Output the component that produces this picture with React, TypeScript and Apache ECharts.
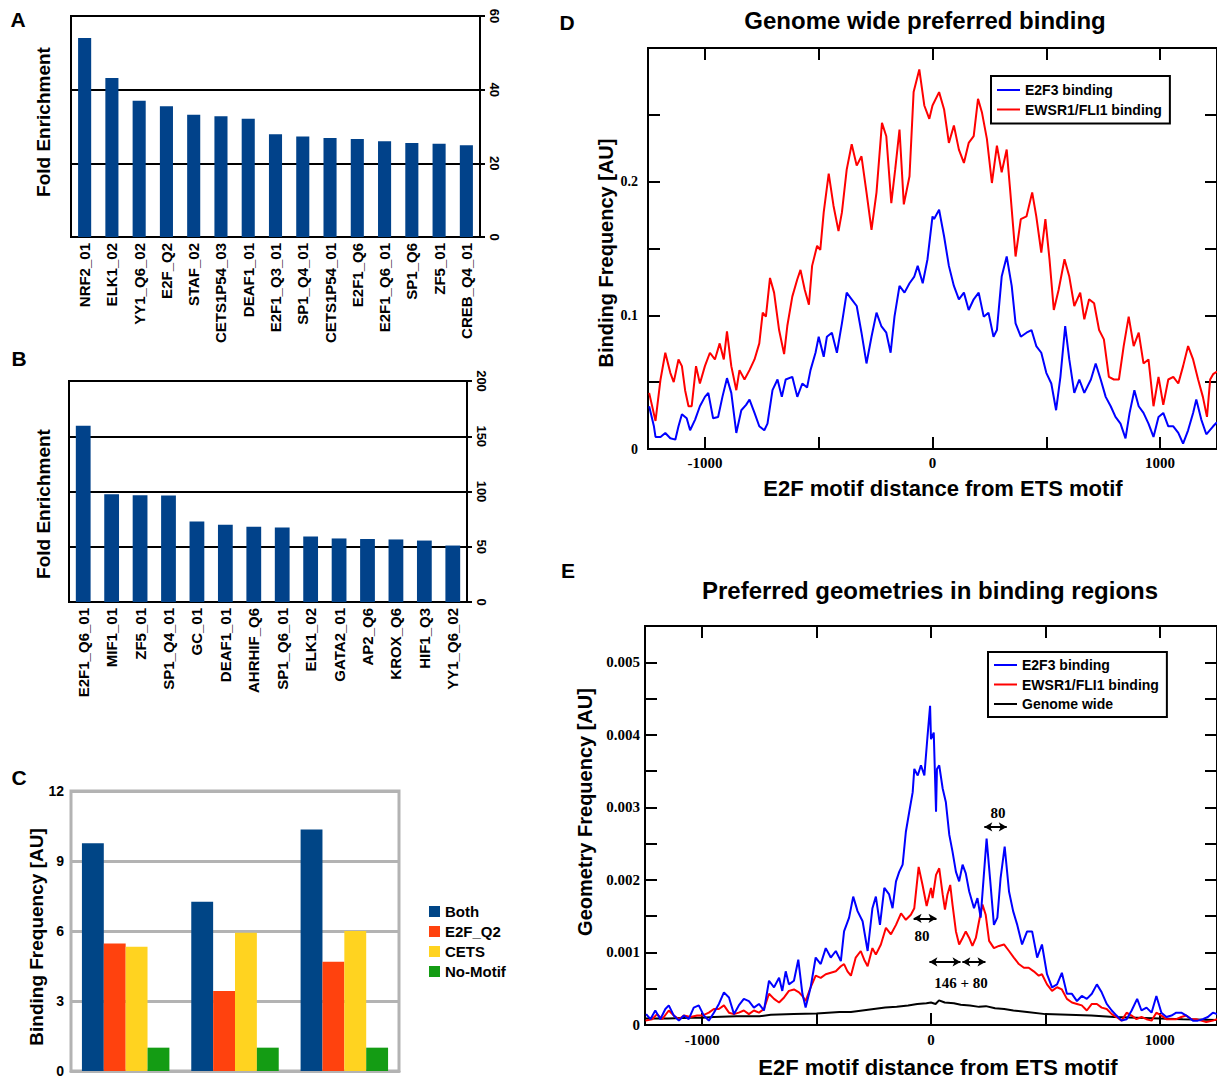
import React, { useEffect, useRef } from 'react';
import * as echarts from 'echarts';

const SANS = "'Liberation Sans', Arial, Helvetica, sans-serif";
const SERIF = "'Liberation Serif', 'Times New Roman', serif";

// Panel A
const A_CATEGORIES = ['NRF2_01', 'ELK1_02', 'YY1_Q6_02', 'E2F_Q2', 'STAF_02', 'CETS1P54_03', 'DEAF1_01', 'E2F1_Q3_01', 'SP1_Q4_01', 'CETS1P54_01', 'E2F1_Q6', 'E2F1_Q6_01', 'SP1_Q6', 'ZF5_01', 'CREB_Q4_01'];
const A_VALUES = [54.0, 43.2, 37.0, 35.5, 33.2, 32.8, 32.1, 27.9, 27.3, 26.9, 26.6, 26.0, 25.5, 25.3, 24.9];

// Panel B
const B_CATEGORIES = ['E2F1_Q6_01', 'MIF1_01', 'ZF5_01', 'SP1_Q4_01', 'GC_01', 'DEAF1_01', 'AHRHIF_Q6', 'SP1_Q6_01', 'ELK1_02', 'GATA2_01', 'AP2_Q6', 'KROX_Q6', 'HIF1_Q3', 'YY1_Q6_02'];
const B_VALUES = [159.5, 97.6, 96.7, 96.4, 72.9, 69.8, 68.0, 67.4, 59.3, 57.5, 57.0, 56.6, 55.6, 51.1];

// Panel C
const C_GROUPS = ['Group 1', 'Group 2', 'Group 3'];
const C_SERIES_NAMES = ['Both', 'E2F_Q2', 'CETS', 'No-Motif'];
const C_BOTH = [9.76, 7.25, 10.35];
const C_E2F_Q2 = [5.46, 3.43, 4.68];
const C_CETS = [5.32, 5.92, 6.0];
const C_NO_MOTIF = [1.0, 1.0, 1.0];

// Panel D: genome wide preferred binding
const D_E2F3 = [[-1245,0.032],[-1224,0.017],[-1217,0.009],[-1195,0.009],[-1174,0.012],[-1152,0.008],[-1130,0.007],[-1116,0.017],[-1101,0.026],[-1080,0.023],[-1065,0.014],[-1043,0.022],[-1022,0.032],[-1000,0.039],[-985,0.042],[-964,0.023],[-942,0.024],[-923,0.039],[-903,0.053],[-884,0.042],[-862,0.012],[-840,0.029],[-819,0.033],[-804,0.037],[-782,0.027],[-761,0.017],[-739,0.014],[-725,0.019],[-703,0.044],[-681,0.052],[-662,0.039],[-645,0.052],[-616,0.054],[-594,0.039],[-572,0.049],[-551,0.046],[-536,0.059],[-514,0.072],[-500,0.084],[-478,0.069],[-464,0.084],[-442,0.087],[-420,0.072],[-398,0.094],[-377,0.117],[-355,0.112],[-333,0.107],[-312,0.087],[-290,0.064],[-268,0.084],[-246,0.102],[-225,0.092],[-203,0.087],[-184,0.072],[-167,0.099],[-145,0.122],[-123,0.117],[-101,0.124],[-80,0.129],[-65,0.137],[-43,0.124],[-22,0.142],[0,0.174],[7,0.172],[29,0.179],[51,0.159],[72,0.137],[94,0.122],[116,0.112],[138,0.117],[159,0.104],[181,0.112],[203,0.117],[225,0.099],[246,0.102],[268,0.084],[283,0.089],[304,0.129],[326,0.144],[348,0.122],[365,0.094],[388,0.084],[413,0.087],[435,0.089],[456,0.077],[478,0.072],[500,0.057],[522,0.049],[543,0.029],[562,0.054],[583,0.092],[601,0.067],[623,0.042],[645,0.052],[667,0.042],[696,0.052],[717,0.064],[739,0.052],[761,0.039],[783,0.032],[804,0.024],[826,0.019],[848,0.008],[866,0.027],[887,0.044],[906,0.032],[927,0.027],[949,0.019],[971,0.009],[993,0.024],[1014,0.027],[1036,0.017],[1058,0.017],[1080,0.012],[1101,0.004],[1123,0.014],[1145,0.027],[1159,0.037],[1181,0.022],[1203,0.011],[1233,0.017],[1250,0.02]];
const D_EWSR1 = [[-1245,0.042],[-1217,0.021],[-1195,0.052],[-1174,0.072],[-1152,0.057],[-1137,0.05],[-1116,0.067],[-1101,0.062],[-1087,0.044],[-1072,0.032],[-1058,0.032],[-1039,0.062],[-1022,0.049],[-1000,0.062],[-978,0.072],[-956,0.067],[-935,0.079],[-917,0.067],[-903,0.088],[-884,0.062],[-862,0.044],[-848,0.059],[-826,0.052],[-804,0.059],[-782,0.067],[-761,0.079],[-746,0.102],[-732,0.099],[-714,0.128],[-696,0.117],[-674,0.089],[-652,0.071],[-638,0.092],[-616,0.114],[-594,0.127],[-580,0.134],[-561,0.119],[-543,0.108],[-529,0.137],[-507,0.152],[-493,0.149],[-478,0.177],[-456,0.206],[-435,0.182],[-413,0.163],[-398,0.177],[-377,0.209],[-355,0.228],[-333,0.212],[-312,0.219],[-290,0.192],[-268,0.164],[-246,0.192],[-222,0.244],[-203,0.234],[-181,0.184],[-164,0.209],[-145,0.239],[-126,0.183],[-101,0.204],[-83,0.267],[-58,0.284],[-36,0.257],[-14,0.247],[0,0.257],[29,0.267],[51,0.254],[72,0.229],[94,0.242],[116,0.224],[138,0.214],[159,0.229],[181,0.234],[200,0.262],[217,0.252],[239,0.232],[261,0.199],[283,0.227],[304,0.207],[326,0.224],[341,0.194],[365,0.144],[388,0.172],[413,0.174],[438,0.192],[456,0.174],[478,0.147],[496,0.172],[514,0.142],[533,0.104],[554,0.119],[580,0.142],[601,0.129],[623,0.107],[649,0.117],[667,0.097],[688,0.112],[710,0.109],[732,0.089],[753,0.082],[775,0.054],[797,0.052],[819,0.052],[840,0.077],[862,0.099],[884,0.077],[906,0.087],[927,0.064],[949,0.067],[971,0.032],[993,0.054],[1014,0.033],[1036,0.052],[1058,0.054],[1080,0.049],[1101,0.062],[1123,0.077],[1145,0.067],[1167,0.052],[1188,0.039],[1206,0.024],[1220,0.052],[1233,0.056],[1250,0.058]];

// Panel E: preferred geometries in binding regions
const E_E2F3 = [[-1245,0.00015],[-1226,0.00008],[-1205,0.0002],[-1183,0.00008],[-1161,0.00022],[-1146,0.00027],[-1124,0.00013],[-1102,0.00006],[-1080,0.00013],[-1059,0.00008],[-1037,0.00024],[-1015,0.00027],[-993,0.00013],[-971,0.00006],[-949,0.00017],[-927,0.00029],[-905,0.00045],[-883,0.00038],[-861,0.00015],[-840,0.00027],[-818,0.00036],[-796,0.00033],[-774,0.00024],[-752,0.00029],[-730,0.0002],[-708,0.00061],[-686,0.00052],[-664,0.00065],[-650,0.00047],[-635,0.00074],[-621,0.00056],[-599,0.00061],[-580,0.0009],[-562,0.00043],[-548,0.00024],[-526,0.00052],[-504,0.00093],[-482,0.00084],[-460,0.00106],[-438,0.00093],[-416,0.00102],[-394,0.00088],[-380,0.00129],[-358,0.00148],[-340,0.00177],[-321,0.00157],[-299,0.00143],[-277,0.00102],[-256,0.00161],[-241,0.00177],[-223,0.00138],[-204,0.00189],[-183,0.0018],[-168,0.00161],[-153,0.00198],[-139,0.00211],[-124,0.00221],[-110,0.00266],[-95,0.00294],[-80,0.00321],[-73,0.00353],[-58,0.00344],[-44,0.00358],[-29,0.00344],[-15,0.00399],[-4,0.0044],[0,0.00394],[12,0.00403],[22,0.00294],[26,0.00353],[36,0.00358],[51,0.00326],[65,0.00307],[80,0.00262],[94,0.00239],[109,0.00211],[123,0.00198],[138,0.00221],[152,0.00209],[167,0.00184],[188,0.00161],[203,0.00175],[217,0.00148],[232,0.00211],[243,0.00257],[258,0.00202],[275,0.00138],[290,0.00148],[304,0.00202],[322,0.00246],[341,0.00184],[359,0.00157],[377,0.00138],[398,0.00111],[420,0.00129],[442,0.00129],[464,0.00093],[485,0.00111],[507,0.0007],[529,0.00052],[551,0.00056],[572,0.00072],[594,0.00043],[616,0.00043],[638,0.00033],[659,0.0004],[681,0.00036],[703,0.00043],[725,0.00056],[746,0.00045],[768,0.00029],[790,0.0002],[811,0.00013],[833,0.00006],[855,0.00008],[877,0.0002],[901,0.00036],[920,0.0002],[942,0.00024],[964,0.00017],[985,0.0004],[1007,0.00017],[1029,0.00011],[1051,0.00013],[1072,0.00017],[1094,0.00017],[1116,0.00013],[1145,0.00006],[1166,0.00006],[1188,0.00008],[1210,0.00011],[1232,0.00017],[1250,0.00015]];
const E_EWSR1 = [[-1248,0.00006],[-1219,0.00008],[-1197,0.00015],[-1175,0.00008],[-1146,0.0002],[-1124,0.00013],[-1102,0.00008],[-1080,0.00013],[-1051,0.00011],[-1022,0.00013],[-1000,0.00013],[-971,0.00017],[-949,0.00022],[-927,0.00022],[-905,0.00027],[-883,0.00017],[-861,0.00015],[-840,0.00017],[-818,0.0002],[-796,0.00015],[-774,0.0002],[-752,0.00017],[-730,0.00022],[-708,0.00043],[-686,0.00036],[-664,0.00031],[-642,0.00038],[-621,0.00047],[-599,0.00049],[-577,0.00045],[-562,0.0004],[-548,0.00033],[-526,0.00052],[-504,0.00068],[-482,0.00065],[-460,0.0007],[-438,0.00072],[-416,0.00074],[-394,0.00081],[-380,0.00084],[-365,0.00074],[-350,0.00068],[-329,0.00093],[-307,0.00102],[-292,0.0009],[-277,0.00081],[-256,0.00106],[-241,0.00097],[-219,0.00111],[-197,0.00134],[-175,0.00125],[-153,0.00138],[-131,0.00154],[-110,0.00145],[-88,0.00152],[-73,0.00161],[-54,0.00218],[-37,0.00193],[-19,0.00164],[0,0.00189],[7,0.00175],[22,0.00207],[36,0.00216],[51,0.0018],[61,0.00159],[72,0.0018],[84,0.00193],[94,0.00166],[109,0.00129],[123,0.00111],[138,0.0012],[152,0.00129],[167,0.0012],[181,0.00109],[196,0.0012],[210,0.00143],[225,0.00166],[239,0.00152],[254,0.00116],[275,0.00106],[297,0.00109],[319,0.00111],[341,0.00102],[362,0.00093],[384,0.00084],[406,0.00079],[427,0.00079],[449,0.00074],[471,0.00068],[485,0.0007],[507,0.00056],[529,0.00047],[551,0.00052],[572,0.00049],[594,0.00036],[616,0.00031],[638,0.00029],[659,0.00027],[681,0.0002],[703,0.00029],[725,0.00029],[746,0.00024],[768,0.00022],[790,0.00015],[811,0.00011],[833,0.00006],[855,0.00017],[877,0.00013],[898,0.00008],[920,0.00011],[942,0.00008],[964,0.00006],[985,0.00017],[1007,0.00013],[1029,0.00008],[1051,0.00008],[1072,0.00008],[1094,0.00011],[1116,0.00013],[1138,0.00008],[1159,0.00008],[1181,0.00006],[1203,0.00004],[1232,0.00006],[1250,0.00008]];
const E_GENOME = [[-1250,0.00009],[-1150,0.00009],[-1050,0.0001],[-1000,0.0001],[-950,0.00011],[-850,0.00012],[-750,0.00012],[-700,0.00014],[-600,0.00015],[-500,0.00016],[-450,0.00017],[-400,0.00018],[-350,0.00018],[-300,0.0002],[-250,0.00022],[-200,0.00024],[-150,0.00025],[-100,0.00027],[-60,0.00029],[-20,0.0003],[0,0.00031],[20,0.00029],[35,0.00034],[60,0.00031],[100,0.0003],[130,0.00028],[170,0.00027],[210,0.00025],[240,0.00026],[280,0.00023],[320,0.00022],[360,0.0002],[420,0.00018],[500,0.00015],[600,0.00014],[700,0.00013],[800,0.00011],[900,0.0001],[1000,0.00009],[1100,0.00008],[1250,0.00007]];

// Annotation arrows in panel E (data coordinates)
const E_ARROWS = [
  [[233, 0.00273], [331, 0.00273]],
  [[-76, 0.00147], [24, 0.00147]],
  [[-7, 0.00087], [129, 0.00087]],
  [[137, 0.00087], [238, 0.00087]],
];

// Tick positions / labels
const X_RANGE = [-1250, 1250];
const X_TICKS = [-1000, -500, 0, 500, 1000];
const X_LABELS = [-1000, 0, 1000];
const D_Y_RANGE = [0, 0.3];
const D_Y_TICKS = [0.05, 0.1, 0.15, 0.2, 0.25];
const D_Y_LABELS = [0, 0.1, 0.2];
const E_Y_RANGE = [0, 0.0055];
const E_Y_TICKS = [0.0005, 0.001, 0.0015, 0.002, 0.0025, 0.003, 0.0035, 0.004, 0.0045, 0.005];
const E_Y_LABELS = [0, 0.001, 0.002, 0.003, 0.004, 0.005];

const BAR_BLUE = '#01428a';
const C_COLORS = ['#004586', '#ff420e', '#ffd320', '#149c14'];

function sansText(x: number, y: number, text: string, size: number, rotation = 0) {
  return {
    type: 'text', x, y, rotation, silent: true,
    style: { text, fontFamily: SANS, fontWeight: 'bold', fontSize: size, fill: '#000', align: 'center', verticalAlign: 'middle' },
  };
}
function serifText(x: number, y: number, text: string, size: number) {
  return {
    type: 'text', x, y, silent: true,
    style: { text, fontFamily: SERIF, fontWeight: 'bold', fontSize: size, fill: '#000', align: 'center', verticalAlign: 'middle' },
  };
}

function frameValueAxis(gridIndex: number, position: string, range: number[], ticks: number[], labels: number[] | null, labelSize: number, margin: number, formatter: any) {
  return {
    gridIndex, type: 'value', position, min: range[0], max: range[1],
    axisLine: { show: false, onZero: false },
    axisTick: { show: true, inside: true, length: 12, customValues: ticks, lineStyle: { color: '#000', width: 2 } },
    axisLabel: labels
      ? { show: true, customValues: labels, fontFamily: SERIF, fontWeight: 'bold', fontSize: labelSize, color: '#000', margin, formatter }
      : { show: false },
    splitLine: { show: false },
  };
}

export default function App() {
  const ref = useRef<HTMLDivElement>(null);
  useEffect(() => {
    if (!ref.current) return;
    const chart = echarts.init(ref.current, null, { renderer: 'svg' });
    const barAxisLabel = { rotate: 90, interval: 0, fontFamily: SANS, fontWeight: 'bold', fontSize: 15, color: '#000', margin: 6 };
    const rightAxis = (gridIndex: number, max: number, interval: number) => ({
      gridIndex, type: 'value', position: 'right', min: 0, max, interval,
      axisLine: { show: true, onZero: false, lineStyle: { color: '#000', width: 2 } },
      axisTick: { show: true, length: 5, lineStyle: { color: '#000', width: 2 } },
      axisLabel: { rotate: -90, fontFamily: SANS, fontWeight: 'bold', fontSize: 13, color: '#000', margin: 8 },
      splitLine: { show: true, lineStyle: { color: '#000', width: 2 } },
    });
    const xFmt = (v: number) => String(v);
    const dFmt = (v: number) => (v === 0 ? '0' : v.toFixed(1));
    const eFmt = (v: number) => (v === 0 ? '0' : v.toFixed(3));
    const option: any = {
      animation: false,
      backgroundColor: '#fff',
      grid: [
        { left: 71, top: 16, width: 409, height: 221, show: true, borderColor: '#000', borderWidth: 2, backgroundColor: 'transparent' },
        { left: 69, top: 381, width: 398, height: 221, show: true, borderColor: '#000', borderWidth: 2, backgroundColor: 'transparent' },
        { left: 71, top: 791, width: 328, height: 281, show: true, borderColor: '#b3b3b3', borderWidth: 3, backgroundColor: 'transparent' },
        { left: 648, top: 48, width: 571, height: 401, show: true, borderColor: '#000', borderWidth: 2, backgroundColor: 'transparent' },
        { left: 645, top: 626, width: 573, height: 399, show: true, borderColor: '#000', borderWidth: 2, backgroundColor: 'transparent' },
      ],
      xAxis: [
        { gridIndex: 0, type: 'category', data: A_CATEGORIES, axisLine: { lineStyle: { color: '#000', width: 2 } }, axisTick: { show: false }, axisLabel: barAxisLabel },
        { gridIndex: 1, type: 'category', data: B_CATEGORIES, axisLine: { lineStyle: { color: '#000', width: 2 } }, axisTick: { show: false }, axisLabel: barAxisLabel },
        { gridIndex: 2, type: 'category', data: C_GROUPS, axisLine: { lineStyle: { color: '#b3b3b3', width: 3 } }, axisTick: { show: false }, axisLabel: { show: false } },
        frameValueAxis(3, 'bottom', X_RANGE, X_TICKS, X_LABELS, 15, 6, xFmt),
        frameValueAxis(3, 'top', X_RANGE, X_TICKS, null, 15, 6, xFmt),
        frameValueAxis(4, 'bottom', X_RANGE, X_TICKS, X_LABELS, 15, 7, xFmt),
        frameValueAxis(4, 'top', X_RANGE, X_TICKS, null, 15, 6, xFmt),
      ],
      yAxis: [
        rightAxis(0, 60, 20),
        rightAxis(1, 200, 50),
        {
          gridIndex: 2, type: 'value', min: 0, max: 12, interval: 3,
          axisLine: { show: false }, axisTick: { show: false },
          axisLabel: { fontFamily: SANS, fontWeight: 'bold', fontSize: 14, color: '#000', margin: 7 },
          splitLine: { show: true, lineStyle: { color: '#b3b3b3', width: 3 } },
        },
        frameValueAxis(3, 'left', D_Y_RANGE, D_Y_TICKS, D_Y_LABELS, 14, 10, dFmt),
        frameValueAxis(3, 'right', D_Y_RANGE, D_Y_TICKS, null, 14, 10, dFmt),
        frameValueAxis(4, 'left', E_Y_RANGE, E_Y_TICKS, E_Y_LABELS, 15, 5, eFmt),
        frameValueAxis(4, 'right', E_Y_RANGE, E_Y_TICKS, null, 15, 5, eFmt),
      ],
      legend: [
        {
          data: C_SERIES_NAMES, orient: 'vertical', left: 429, top: 904, padding: 0,
          itemWidth: 11, itemHeight: 11, itemGap: 5, icon: 'rect', selectedMode: false,
          textStyle: { fontFamily: SANS, fontWeight: 'bold', fontSize: 15, color: '#000', lineHeight: 15 },
        },
        {
          data: ['E2F3 binding', 'EWSR1/FLI1 binding'], orient: 'vertical', left: 991, top: 76,
          padding: [7, 8, 7, 6], itemWidth: 23, itemHeight: 2, itemGap: 5.5, icon: 'rect', selectedMode: false,
          borderColor: '#000', borderWidth: 2, backgroundColor: '#fff', borderRadius: 0,
          textStyle: { fontFamily: SANS, fontWeight: 'bold', fontSize: 14, color: '#000', lineHeight: 14 },
        },
        {
          data: ['E2F3 binding', 'EWSR1/FLI1 binding', 'Genome wide'], orient: 'vertical', left: 988, top: 652,
          padding: [6, 8, 6, 6], itemWidth: 23, itemHeight: 2, itemGap: 5.5, icon: 'rect', selectedMode: false,
          borderColor: '#000', borderWidth: 2, backgroundColor: '#fff', borderRadius: 0,
          textStyle: { fontFamily: SANS, fontWeight: 'bold', fontSize: 14, color: '#000', lineHeight: 14 },
        },
      ],
      series: [
        { type: 'bar', name: 'Fold Enrichment A', xAxisIndex: 0, yAxisIndex: 0, data: A_VALUES, barWidth: '48%', itemStyle: { color: BAR_BLUE }, silent: true },
        { type: 'bar', name: 'Fold Enrichment B', xAxisIndex: 1, yAxisIndex: 1, data: B_VALUES, barWidth: '52%', itemStyle: { color: BAR_BLUE }, silent: true },
        ...[C_BOTH, C_E2F_Q2, C_CETS, C_NO_MOTIF].map((d, i) => ({
          type: 'bar', name: C_SERIES_NAMES[i], xAxisIndex: 2, yAxisIndex: 2, data: d,
          barGap: '0%', barCategoryGap: '20%', itemStyle: { color: C_COLORS[i] }, silent: true,
        })),
        { type: 'line', name: 'EWSR1/FLI1 binding', xAxisIndex: 3, yAxisIndex: 3, data: D_EWSR1, showSymbol: false, lineStyle: { color: '#ff0000', width: 2 }, itemStyle: { color: '#ff0000' }, silent: true },
        { type: 'line', name: 'E2F3 binding', xAxisIndex: 3, yAxisIndex: 3, data: D_E2F3, showSymbol: false, lineStyle: { color: '#0000ff', width: 2 }, itemStyle: { color: '#0000ff' }, silent: true },
        {
          type: 'line', name: 'Genome wide', xAxisIndex: 5, yAxisIndex: 5, data: E_GENOME, showSymbol: false,
          lineStyle: { color: '#000', width: 2 }, itemStyle: { color: '#000' }, silent: true,
          markLine: {
            silent: true, symbol: ['arrow', 'arrow'], symbolSize: [7, 8],
            lineStyle: { color: '#000', width: 2, type: 'solid' }, label: { show: false },
            data: E_ARROWS.map(([p, q]) => [{ coord: p }, { coord: q }]),
          },
        },
        { type: 'line', name: 'EWSR1/FLI1 binding', xAxisIndex: 5, yAxisIndex: 5, data: E_EWSR1, showSymbol: false, lineStyle: { color: '#ff0000', width: 2 }, itemStyle: { color: '#ff0000' }, silent: true },
        { type: 'line', name: 'E2F3 binding', xAxisIndex: 5, yAxisIndex: 5, data: E_E2F3, showSymbol: false, lineStyle: { color: '#0000ff', width: 2 }, itemStyle: { color: '#0000ff' }, silent: true },
      ],
      graphic: [
        sansText(18, 19, 'A', 21),
        sansText(19, 358, 'B', 21),
        sansText(19, 777, 'C', 21),
        sansText(567, 22, 'D', 21),
        sansText(568, 570, 'E', 21),
        sansText(925, 20, 'Genome wide preferred binding', 24),
        sansText(930, 590, 'Preferred geometries in binding regions', 24),
        sansText(43, 122, 'Fold Enrichment', 19, Math.PI / 2),
        sansText(43, 504, 'Fold Enrichment', 19, Math.PI / 2),
        sansText(36, 937, 'Binding Frequency [AU]', 19, Math.PI / 2),
        sansText(606, 253, 'Binding Frequency [AU]', 20, Math.PI / 2),
        sansText(585, 812, 'Geometry Frequency [AU]', 20, Math.PI / 2),
        sansText(943, 488, 'E2F motif distance from ETS motif', 22),
        sansText(938, 1067, 'E2F motif distance from ETS motif', 22),
        serifText(998, 813, '80', 15),
        serifText(922, 936, '80', 15),
        serifText(961, 983, '146 + 80', 15),
      ],
    };
    chart.setOption(option);
    return () => chart.dispose();
  }, []);
  return <div ref={ref} style={{ position: 'absolute', left: 0, top: 0, width: 1217, height: 1078 }} />;
}
